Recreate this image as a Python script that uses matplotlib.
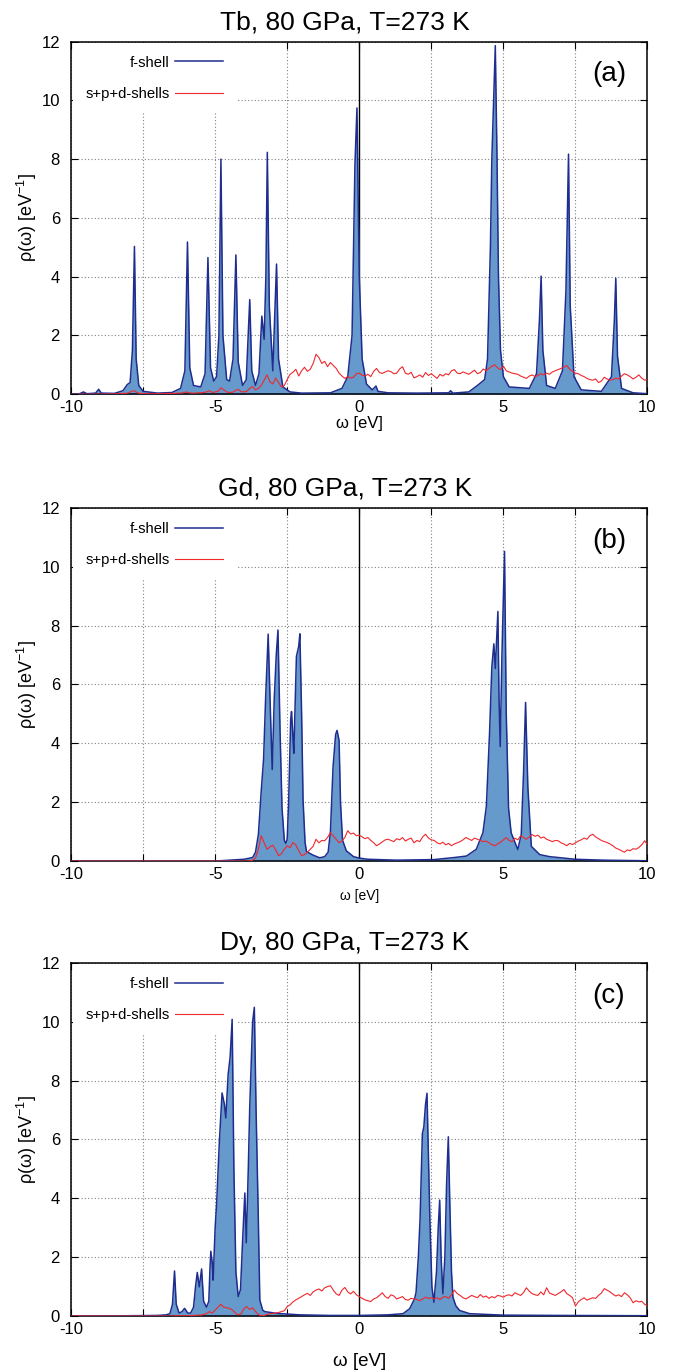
import numpy as np
import matplotlib
matplotlib.use('Agg')
import matplotlib.pyplot as plt

plt.rcParams['font.family'] = ['Liberation Sans', 'DejaVu Sans']
plt.rcParams['axes.unicode_minus'] = False
plt.rcParams['mathtext.fontset'] = 'custom'
plt.rcParams['mathtext.rm'] = 'Liberation Sans'
plt.rcParams['mathtext.it'] = 'Liberation Sans:italic'

# ---- data ----------------------------------------------------------------
titles = ['Tb, 80 GPa, T=273 K', 'Gd, 80 GPa, T=273 K', 'Dy, 80 GPa, T=273 K']
tags = ['(a)', '(b)', '(c)']
legend_labels = ['f-shell', 's+p+d-shells']

# f-shell DOS, (omega, rho) pairs
tb_f = [(-10, 0.0), (-9.7, 0.02), (-9.57, 0.08), (-9.45, 0.02), (-9.15, 0.04), (-9.04, 0.17),
        (-8.95, 0.04), (-8.5, 0.03), (-8.2, 0.12), (-8.05, 0.33), (-7.95, 0.4), (-7.87, 1.5),
        (-7.8, 5.03), (-7.74, 1.2), (-7.65, 0.3), (-7.5, 0.1), (-7.0, 0.04), (-6.5, 0.06),
        (-6.2, 0.2), (-6.05, 0.8), (-5.96, 5.18), (-5.88, 0.9), (-5.75, 0.3), (-5.5, 0.25),
        (-5.35, 0.7), (-5.25, 4.65), (-5.16, 0.9), (-5.05, 0.45), (-4.95, 0.6), (-4.87, 2.0),
        (-4.8, 8.0), (-4.73, 2.0), (-4.6, 0.5), (-4.5, 0.45), (-4.38, 1.2), (-4.28, 4.74),
        (-4.2, 1.1), (-4.05, 0.3), (-3.92, 0.5), (-3.8, 3.22), (-3.73, 0.8), (-3.6, 0.3),
        (-3.48, 0.7), (-3.38, 2.66), (-3.3, 1.87), (-3.24, 4.0), (-3.19, 8.23), (-3.12, 3.0),
        (-3.0, 0.8), (-2.87, 4.43), (-2.8, 1.2), (-2.65, 0.25), (-2.4, 0.08), (-2.0, 0.04),
        (-1.0, 0.05), (-0.6, 0.2), (-0.4, 0.6), (-0.25, 2.0), (-0.15, 7.8), (-0.08, 9.74),
        (0.0, 4.0), (0.1, 1.2), (0.25, 0.35), (0.45, 0.15), (0.58, 0.28), (0.65, 0.1),
        (1.0, 0.05), (2.0, 0.04), (3.1, 0.05), (3.17, 0.12), (3.25, 0.04), (3.8, 0.08),
        (4.1, 0.3), (4.35, 0.5), (4.45, 1.2), (4.55, 5.0), (4.6, 8.0), (4.72, 11.86),
        (4.78, 8.0), (4.83, 4.0), (4.9, 1.5), (5.0, 0.6), (5.2, 0.25), (5.9, 0.2),
        (6.15, 0.7), (6.25, 2.5), (6.31, 4.02), (6.37, 1.5), (6.5, 0.3), (6.8, 0.2),
        (7.05, 0.8), (7.17, 3.5), (7.26, 8.17), (7.32, 3.0), (7.45, 0.6), (7.7, 0.15),
        (8.4, 0.1), (8.75, 0.6), (8.85, 2.5), (8.9, 3.95), (8.96, 1.3), (9.1, 0.2),
        (9.5, 0.05), (10, 0.02)]

gd_f = [(-10, 0.0), (-5, 0.0), (-4.5, 0.03), (-4.0, 0.06), (-3.7, 0.12), (-3.6, 0.3),
        (-3.5, 0.9), (-3.4, 2.4), (-3.32, 3.45), (-3.25, 5.5), (-3.16, 7.71), (-3.08, 5.0),
        (-3.02, 3.11), (-2.95, 5.5), (-2.88, 7.0), (-2.82, 7.85), (-2.75, 4.5), (-2.68, 1.8),
        (-2.6, 0.7), (-2.55, 0.6), (-2.5, 0.75), (-2.45, 2.0), (-2.38, 4.8), (-2.35, 5.08),
        (-2.3, 4.2), (-2.27, 3.66), (-2.22, 5.5), (-2.18, 6.95), (-2.1, 7.3), (-2.06, 7.72),
        (-2.0, 5.0), (-1.95, 2.07), (-1.88, 0.63), (-1.83, 0.32), (-1.6, 0.2), (-1.37, 0.11),
        (-1.2, 0.15), (-1.08, 0.3), (-1.0, 1.0), (-0.91, 3.19), (-0.82, 4.3), (-0.77, 4.44),
        (-0.7, 4.1), (-0.65, 1.98), (-0.58, 0.71), (-0.45, 0.35), (-0.2, 0.15), (0.0, 0.1),
        (0.3, 0.06), (1.3, 0.03), (2.6, 0.05), (3.3, 0.12), (3.72, 0.17), (4.06, 0.4),
        (4.29, 0.96), (4.41, 1.86), (4.52, 4.34), (4.6, 6.6), (4.67, 7.38), (4.72, 6.54),
        (4.81, 8.48), (4.85, 5.5), (4.89, 3.89), (4.95, 7.0), (5.04, 10.52), (5.1, 5.0),
        (5.18, 1.8), (5.27, 0.96), (5.5, 0.39), (5.62, 0.9), (5.7, 3.0), (5.77, 5.39),
        (5.85, 2.5), (5.97, 0.5), (6.26, 0.22), (6.6, 0.15), (7.5, 0.06), (8.5, 0.03),
        (10, 0.01)]

dy_f = [(-10, 0.0), (-8, 0.01), (-7, 0.02), (-6.7, 0.04), (-6.57, 0.08), (-6.48, 0.4),
        (-6.41, 1.53), (-6.35, 0.4), (-6.25, 0.1), (-6.15, 0.15), (-6.06, 0.26), (-5.95, 0.1),
        (-5.85, 0.1), (-5.75, 0.3), (-5.68, 1.0), (-5.62, 1.48), (-5.55, 0.99), (-5.47, 1.6),
        (-5.4, 0.5), (-5.3, 0.3), (-5.22, 0.5), (-5.18, 1.6), (-5.15, 2.2), (-5.1, 1.8),
        (-5.07, 1.22), (-5.0, 3.0), (-4.95, 3.8), (-4.85, 6.0), (-4.76, 7.58), (-4.68, 7.2),
        (-4.63, 6.73), (-4.55, 8.2), (-4.48, 8.8), (-4.41, 10.08), (-4.35, 5.0), (-4.28, 1.5),
        (-4.2, 0.66), (-4.12, 0.9), (-4.05, 2.5), (-3.97, 4.18), (-3.92, 2.49), (-3.85, 5.0),
        (-3.8, 7.1), (-3.7, 10.0), (-3.64, 10.49), (-3.58, 7.0), (-3.51, 3.7), (-3.45, 0.54),
        (-3.35, 0.2), (-3.28, 0.15), (-2.87, 0.09), (-2.06, 0.04), (-1.0, 0.02), (0.0, 0.02),
        (1.0, 0.04), (1.52, 0.08), (1.75, 0.25), (1.92, 0.59), (1.97, 0.8), (2.05, 2.0),
        (2.11, 3.3), (2.19, 6.2), (2.24, 6.42), (2.3, 7.2), (2.35, 7.57), (2.41, 5.0),
        (2.45, 3.3), (2.52, 1.0), (2.59, 0.47), (2.68, 1.5), (2.74, 3.0), (2.79, 3.94),
        (2.84, 2.0), (2.9, 0.76), (2.97, 2.0), (3.03, 4.5), (3.09, 6.09), (3.15, 3.5),
        (3.2, 1.5), (3.25, 0.64), (3.35, 0.35), (3.48, 0.19), (3.83, 0.08), (5.0, 0.03),
        (7.0, 0.02), (10, 0.01)]

# s+p+d DOS, sampled every 0.1 eV from -10 to 10
red_x = np.linspace(-10, 10, 201)

tb_spd = [0.00, 0.00, 0.00, 0.00, 0.01, 0.00, 0.00, 0.01, 0.00, 0.01,
          0.01, 0.00, 0.01, 0.01, 0.01, 0.01, 0.02, 0.02, 0.03, 0.03,
          0.05, 0.10, 0.12, 0.05, 0.03, 0.02, 0.02, 0.02, 0.02, 0.02,
          0.02, 0.02, 0.02, 0.03, 0.03, 0.03, 0.03, 0.04, 0.04, 0.05,
          0.08, 0.05, 0.04, 0.04, 0.05, 0.05, 0.06, 0.08, 0.12, 0.06,
          0.08, 0.10, 0.22, 0.15, 0.08, 0.06, 0.07, 0.12, 0.17, 0.09,
          0.08, 0.10, 0.20, 0.26, 0.15, 0.20, 0.30, 0.48, 0.66, 0.42,
          0.35, 0.55, 0.40, 0.25, 0.30, 0.50, 0.68, 0.75, 0.85, 0.62,
          0.80, 0.92, 0.78, 0.85, 1.05, 1.36, 1.25, 1.05, 1.12, 0.94,
          1.08, 0.98, 0.88, 0.72, 0.62, 0.54, 0.60, 0.55, 0.58, 0.70,
          0.72, 0.65, 0.62, 0.68, 0.60, 0.78, 0.88, 0.74, 0.71, 0.76,
          0.80, 0.77, 0.70, 0.72, 0.86, 0.94, 0.72, 0.68, 0.75, 0.56,
          0.60, 0.66, 0.58, 0.74, 0.64, 0.70, 0.62, 0.54, 0.68, 0.62,
          0.70, 0.66, 0.80, 0.84, 0.72, 0.70, 0.76, 0.72, 0.68, 0.75,
          0.82, 0.70, 0.74, 0.86, 0.80, 0.88, 0.95, 1.00, 0.90, 0.84,
          0.96, 0.80, 0.76, 0.72, 0.70, 0.68, 0.62, 0.58, 0.54, 0.62,
          0.66, 0.60, 0.64, 0.70, 0.66, 0.72, 0.68, 0.76, 0.80, 0.84,
          0.88, 0.92, 0.98, 0.85, 0.78, 0.72, 0.70, 0.64, 0.60, 0.54,
          0.50, 0.48, 0.52, 0.40, 0.45, 0.58, 0.52, 0.48, 0.50, 0.55,
          0.52, 0.62, 0.70, 0.66, 0.60, 0.52, 0.58, 0.66, 0.55, 0.48, 0.52]

gd_spd = [0.00] * 60 + [
          0.00, 0.00, 0.01, 0.03, 0.10, 0.40, 0.86, 0.62, 0.40, 0.48,
          0.54, 0.38, 0.18, 0.25, 0.40, 0.52, 0.45, 0.63, 0.55, 0.35,
          0.18, 0.22, 0.30, 0.40, 0.50, 0.74, 0.62, 0.70, 0.69, 0.80,
          0.97, 0.85, 0.74, 0.62, 0.68, 0.80, 1.03, 0.92, 0.95, 0.86,
          0.88, 0.82, 0.76, 0.80, 0.70, 0.62, 0.52, 0.58, 0.65, 0.72,
          0.74, 0.70, 0.66, 0.76, 0.72, 0.80, 0.68, 0.74, 0.78, 0.62,
          0.70, 0.66, 0.82, 0.91, 0.78, 0.72, 0.70, 0.62, 0.58, 0.64,
          0.55, 0.60, 0.52, 0.58, 0.62, 0.66, 0.72, 0.80, 0.75, 0.70,
          0.78, 0.74, 0.70, 0.66, 0.68, 0.62, 0.56, 0.52, 0.58, 0.64,
          0.72, 0.80, 0.70, 0.66, 0.78, 0.72, 0.86, 0.80, 0.74, 0.82,
          0.90, 0.84, 0.88, 0.78, 0.82, 0.74, 0.70, 0.66, 0.70, 0.69,
          0.62, 0.58, 0.52, 0.60, 0.56, 0.62, 0.68, 0.72, 0.78, 0.74,
          0.86, 0.91, 0.82, 0.76, 0.70, 0.66, 0.63, 0.58, 0.52, 0.44,
          0.40, 0.35, 0.30, 0.38, 0.35, 0.42, 0.40, 0.46, 0.55, 0.69, 0.55]

dy_spd = [0.00] * 30 + [
          0.00, 0.00, 0.00, 0.00, 0.00, 0.00, 0.01, 0.01, 0.01, 0.01,
          0.01, 0.01, 0.02, 0.02, 0.03, 0.03, 0.05, 0.08, 0.15, 0.10,
          0.20, 0.30, 0.40, 0.30, 0.28, 0.26, 0.20, 0.10, 0.04, 0.08,
          0.25, 0.32, 0.22, 0.28, 0.15, 0.05, 0.01, 0.02, 0.05, 0.08,
          0.09, 0.10, 0.12, 0.15, 0.18, 0.32, 0.38, 0.48, 0.55, 0.60,
          0.66, 0.72, 0.77, 0.70, 0.82, 0.88, 0.92, 0.85, 0.96, 1.00,
          1.03, 0.88, 0.75, 0.70, 0.88, 0.97, 0.82, 0.75, 0.84, 0.72,
          0.66, 0.60, 0.55, 0.52, 0.49, 0.58, 0.62, 0.70, 0.79, 0.66,
          0.60, 0.72, 0.68, 0.58, 0.62, 0.66, 0.56, 0.54, 0.60, 0.58,
          0.56, 0.52, 0.58, 0.64, 0.60, 0.62, 0.58, 0.62, 0.56, 0.64,
          0.66, 0.60, 0.72, 0.88, 0.76, 0.70, 0.62, 0.58, 0.64, 0.70,
          0.66, 0.62, 0.73, 0.64, 0.68, 0.60, 0.66, 0.62, 0.70, 0.68,
          0.64, 0.70, 0.72, 0.68, 0.79, 0.74, 0.70, 0.80, 0.96, 0.84,
          0.76, 0.72, 0.70, 0.82, 0.72, 0.96, 0.78, 0.74, 0.70, 0.76,
          0.82, 0.90, 0.76, 0.70, 0.62, 0.34, 0.48, 0.56, 0.62, 0.54,
          0.58, 0.62, 0.60, 0.70, 0.78, 0.93, 0.88, 0.82, 0.74, 0.68,
          0.72, 0.66, 0.79, 0.72, 0.62, 0.45, 0.52, 0.48, 0.50, 0.40, 0.34]

f_data = [tb_f, gd_f, dy_f]
spd_data = [tb_spd, gd_spd, dy_spd]
for s in spd_data:
    assert len(s) == len(red_x)

x_ticks = np.arange(-10, 10.1, 2.5)
x_ticklabels = ['-10', '', '-5', '', '0', '', '5', '', '10']
y_ticks = np.arange(0, 12.1, 2)

# ---- layout ---------------------------------------------------------------
fill_color = '#6699cc'
line_color = '#1f2d8f'
red_color = '#f0282d'

fig = plt.figure(figsize=(6.83, 13.70), dpi=100)
axes_rects = [[0.104, 0.7122, 0.844, 0.2575],
              [0.104, 0.3715, 0.844, 0.2578],
              [0.104, 0.0394, 0.844, 0.2578]]
xlabel_sizes = [12, 10, 13.5]
xlabel_pos = [-0.062, -0.078, -0.105]

for i in range(3):
    ax = fig.add_axes(axes_rects[i])
    fx, fy = np.array(f_data[i]).T

    ax.fill_between(fx, fy, 0, color=fill_color, lw=0, zorder=2)
    ax.plot(fx, fy, color=line_color, lw=1.1, zorder=3, label=legend_labels[0])
    ax.plot(red_x, spd_data[i], color=red_color, lw=0.8, zorder=4, label=legend_labels[1])
    ax.axvline(0, color='black', lw=1.0, zorder=1.5)

    ax.set_xlim(-10, 10)
    ax.set_ylim(0, 12)
    ax.set_xticks(x_ticks)
    ax.set_xticklabels(x_ticklabels)
    ax.set_yticks(y_ticks)
    ax.tick_params(direction='in', length=5, width=0.8, labelsize=12,
                   top=True, right=True)
    ax.tick_params(axis='x', pad=4)
    ax.tick_params(axis='y', pad=8)
    ax.grid(True, color='#808080', lw=0.8, linestyle=(0, (1, 2)))
    ax.set_axisbelow(True)
    for sp in ax.spines.values():
        sp.set_linewidth(1.1)

    ax.set_title(titles[i], fontsize=19, x=0.475, pad=9)
    ax.set_ylabel('ρ(ω) [eV$^{-1}$]', fontsize=13)
    ax.yaxis.set_label_coords(-0.055, 0.5)
    ax.set_xlabel('ω [eV]', fontsize=xlabel_sizes[i])
    ax.xaxis.set_label_coords(0.5, xlabel_pos[i])

    ax.text(0.933, 0.907, tags[i], transform=ax.transAxes, fontsize=20,
            ha='center', va='center')

    leg = ax.legend(loc='upper left', markerfirst=False, fontsize=10.7,
                    handlelength=3.2, handletextpad=0.4, labelspacing=1.15,
                    borderpad=0.85, borderaxespad=0.1, frameon=True,
                    fancybox=False, framealpha=1, edgecolor='none')
    leg.get_frame().set_linewidth(0)
    leg.set_zorder(1.8)

fig.savefig('out.png', dpi=100)
